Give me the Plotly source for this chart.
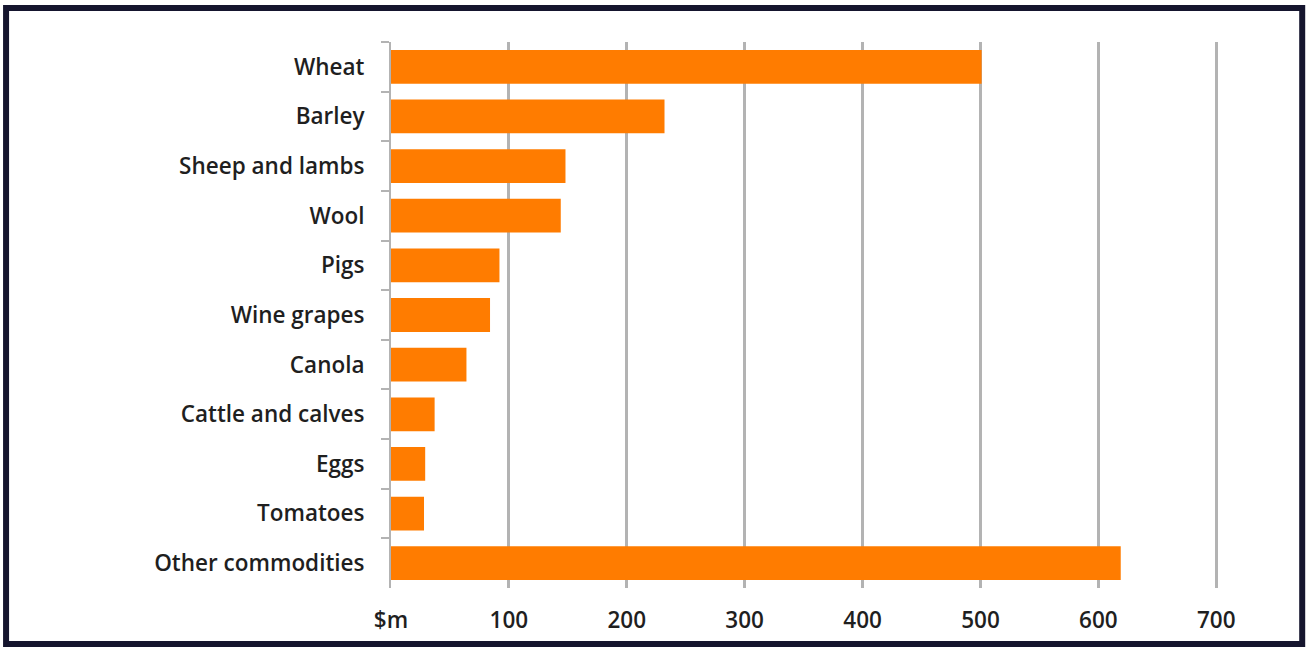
import plotly.graph_objects as go

categories = ["Wheat", "Barley", "Sheep and lambs", "Wool", "Pigs", "Wine grapes",
              "Canola", "Cattle and calves", "Eggs", "Tomatoes", "Other commodities"]
values = [501, 232, 148, 144, 92, 84, 64, 37, 29, 28, 619]
tick_vals = [0, 100, 200, 300, 400, 500, 600, 700]
tick_text = ["$m", "100", "200", "300", "400", "500", "600", "700"]

W, H = 1306, 650
L, R, T, B = 391, 1216, 42, 588

fig = go.Figure(go.Bar(
    x=values, y=categories, orientation="h",
    marker=dict(color="#FF7C00", line=dict(width=0)),
    width=0.68,
))

def px_to_paper_x(p):
    return (p - L) / (R - L)

def px_to_paper_y(p):
    return (B - p) / (B - T)

fig.add_shape(type="rect", xref="paper", yref="paper",
              x0=px_to_paper_x(7), x1=px_to_paper_x(1300),
              y0=px_to_paper_y(644), y1=px_to_paper_y(8),
              line=dict(color="#15152e", width=6), fillcolor="rgba(0,0,0,0)", layer="above")

fig.update_layout(
    width=W, height=H,
    margin=dict(l=L, r=W - R - 2, t=T, b=H - B, pad=0),
    paper_bgcolor="white", plot_bgcolor="white",
    font=dict(family="Open Sans", size=22.5, color="#1f1f1f", weight=600),
    showlegend=False,
    xaxis=dict(range=[0, 701.5], tickvals=tick_vals, ticktext=tick_text,
               showgrid=True, gridcolor="#b3b3b3", gridwidth=2.5,
               zeroline=False, showline=False, ticks="", ticklen=0,
               ticklabelstandoff=16,
               tickfont=dict(size=22.5, weight=600), fixedrange=True),
    yaxis=dict(categoryorder="array", categoryarray=categories, autorange="reversed",
               showline=True, linecolor="#b3b3b3", linewidth=2,
               ticks="outside", ticklen=8, tickcolor="#b3b3b3", tickwidth=2,
               tickson="boundaries", showgrid=False, ticklabelstandoff=20,
               tickfont=dict(size=22.5, weight=600)),
)

fig.write_html("out.html")
